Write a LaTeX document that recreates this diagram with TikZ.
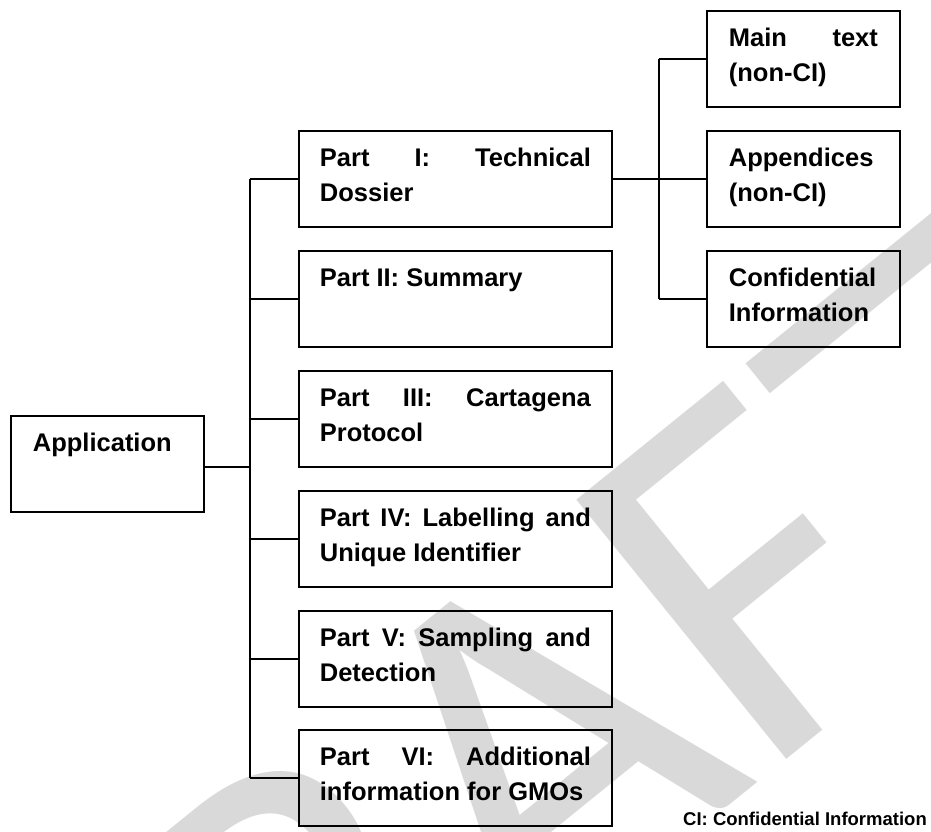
\documentclass[tikz,border=0pt]{standalone}
\usepackage{fontspec}
\setmainfont{Liberation Sans}
\newfontfamily\wmfont{Carlito}
\definecolor{wmgray}{RGB}{217,217,217}
\newcommand{\bx}[2]{\parbox[c][96pt][t]{#1}{\vspace*{11.5pt}\tolerance=10000\hbadness=10000\hyphenpenalty=10000\exhyphenpenalty=10000\strut #2}}
\begin{document}
\begin{tikzpicture}[x=1pt,y=-1pt,
  box/.style={draw, line width=1.8pt, anchor=north west, inner ysep=0pt,
    font=\bfseries\fontsize{25.5}{35}\selectfont},
  partbox/.style={box, inner xsep=21pt},
  sidebox/.style={box, inner xsep=22pt},
  link/.style={line width=1.5pt},
  watermark/.style={rotate=39, anchor=base west, inner sep=0pt, text=wmgray,
    font=\wmfont\fontsize{520}{520}\selectfont}]
\useasboundingbox (0,0) rectangle (931,831);
\begin{scope}
\clip (0,0) rectangle (931,831);
\node[watermark] (wm) at (57.6,1350) {DRAF};
\node[watermark, xscale=2.2] (wmt) at (945,632) {T};
\end{scope}

\node[sidebox] (app) at (10,415) {\bx{149pt}{Application}};

\node[partbox] (p1) at (298,130) {\bx{271pt}{Part I: Technical Dossier}};
\node[partbox] (p2) at (298,250) {\bx{271pt}{Part II: Summary}};
\node[partbox] (p3) at (298,370) {\bx{271pt}{Part III: Cartagena Protocol}};
\node[partbox] (p4) at (298,490) {\bx{271pt}{Part IV: Labelling and Unique Identifier}};
\node[partbox] (p5) at (298,610) {\bx{271pt}{Part V: Sampling and Detection}};
\node[partbox] (p6) at (298,729) {\bx{271pt}{Part VI: Additional information for GMOs}};

\node[sidebox] (s1) at (706,10) {\bx{149pt}{Main text (non-CI)}};
\node[sidebox] (s2) at (706,130) {\bx{149pt}{Appendices (non-CI)}};
\node[sidebox] (s3) at (706,250) {\bx{149pt}{Confidential Information}};

\coordinate (jx) at (250,0);
\coordinate (kx) at (659,0);

\draw[link] ([yshift=-3pt]app.east) -- ([yshift=-3pt]app.east -| jx);
\draw[link] (p1.west -| jx) -- (p6.west -| jx);
\foreach \p in {p1,p2,p3,p4,p5,p6}{
  \draw[link] (\p.west -| jx) -- (\p.west);
}
\draw[link] (p1.east) -- (s2.west);
\draw[link] (s1.west -| kx) -- (s3.west -| kx);
\draw[link] (s1.west -| kx) -- (s1.west);
\draw[link] (s3.west -| kx) -- (s3.west);

\node[anchor=base east, inner sep=0pt, font=\bfseries\fontsize{18.5}{22}\selectfont] (note) at (927,825) {CI: Confidential Information};
\end{tikzpicture}
\end{document}
